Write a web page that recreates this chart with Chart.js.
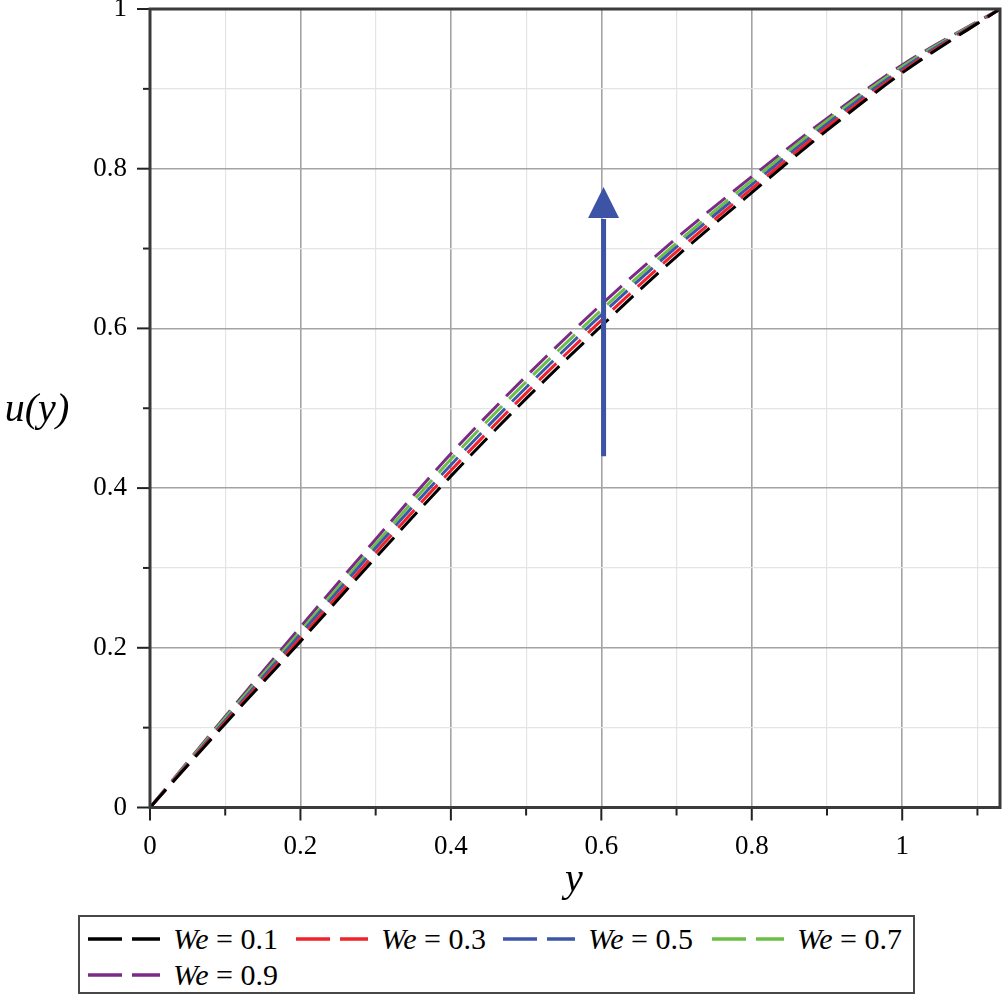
<!DOCTYPE html>
<html>
<head>
<meta charset="utf-8">
<script src="https://cdn.jsdelivr.net/npm/chart.js@4/dist/chart.umd.min.js"></script>
<style>
  html, body { margin: 0; padding: 0; background: #fff; }
  #wrap { position: relative; width: 1006px; height: 999px; overflow: hidden; }
  #plot { position: absolute; left: 0; top: 0; }
  #legend {
    position: absolute; left: 78px; top: 915px; width: 833px; height: 75px;
    border: 2px solid #474747; box-sizing: content-box;
    font-family: "Liberation Serif", "Times New Roman", Tinos, "DejaVu Serif", "Noto Serif", serif;
    font-size: 30px; color: #000;
  }
  .item { position: absolute; height: 32px; line-height: 32px; white-space: nowrap; }
  .item svg { position: absolute; left: 0; top: 13px; }
  .item span.t { position: absolute; top: 0; }
  .item i { font-style: italic; }
</style>
</head>
<body>
<div id="wrap">
  <canvas id="plot" width="1006" height="910"></canvas>
  <div id="legend"></div>
</div>
<script>
// --- данные ---
const yPos   = [0, 0.1, 0.2, 0.3, 0.4, 0.5, 0.6, 0.7, 0.8, 0.9, 1.0, 1.13];
const uWe01  = [0, 0.105, 0.208, 0.313, 0.415, 0.512, 0.603, 0.690, 0.770, 0.848, 0.920, 1.0];
const uWe03  = [0, 0.107, 0.212, 0.319, 0.422, 0.519, 0.610, 0.696, 0.775, 0.852, 0.922, 1.0];
const uWe05  = [0, 0.109, 0.217, 0.325, 0.429, 0.526, 0.617, 0.702, 0.780, 0.856, 0.925, 1.0];
const uWe07  = [0, 0.112, 0.221, 0.330, 0.436, 0.533, 0.623, 0.707, 0.785, 0.860, 0.928, 1.0];
const uWe09  = [0, 0.114, 0.226, 0.336, 0.443, 0.540, 0.630, 0.713, 0.790, 0.863, 0.930, 1.0];
const weLabels = ['0.1', '0.3', '0.5', '0.7', '0.9'];
const xTicks = [0, 0.2, 0.4, 0.6, 0.8, 1];
const yTicks = [0, 0.2, 0.4, 0.6, 0.8, 1];

// стрелка (направление роста We)
const arrowX = 0.603;
const arrowFrom = 0.44;
const arrowTo = 0.777;

const colors = ['#000000', '#f0222b', '#3d56a8', '#6cbf46', '#7b2b86'];
const seriesList = [uWe01, uWe03, uWe05, uWe07, uWe09];

const SERIF = '"Liberation Serif", "Times New Roman", Tinos, "DejaVu Serif", "Noto Serif", serif';
const isMajor = v => Math.abs(v * 5 - Math.round(v * 5)) < 1e-6;

const datasets = seriesList.map((vals, i) => ({
  label: 'We = ' + weLabels[i],
  data: vals.map((v, k) => ({ x: yPos[k], y: v })),
  borderColor: colors[i],
  borderWidth: 3,
  borderDash: [24, 10],
  pointRadius: 0,
  fill: false,
  cubicInterpolationMode: 'monotone'
}));

// рамка, засечки, подписи осей, стрелка
const decorPlugin = {
  id: 'decor',
  afterDatasetsDraw(chart) {
    const { ctx, chartArea: a, scales: { x, y } } = chart;
    ctx.save();

    // стрелка
    const px = x.getPixelForValue(arrowX);
    const pTip = y.getPixelForValue(arrowTo);
    const pBase = pTip + 31;
    ctx.strokeStyle = '#3d54a6';
    ctx.fillStyle = '#3d54a6';
    ctx.lineWidth = 5;
    ctx.beginPath();
    ctx.moveTo(px, y.getPixelForValue(arrowFrom));
    ctx.lineTo(px, pBase + 1);
    ctx.stroke();
    ctx.beginPath();
    ctx.moveTo(px, pTip);
    ctx.lineTo(px - 15.5, pBase);
    ctx.lineTo(px + 15.5, pBase);
    ctx.closePath();
    ctx.fill();

    // засечки
    ctx.strokeStyle = '#222';
    ctx.lineWidth = 2;
    for (let v = 0; v <= 1.1001; v += 0.1) {
      const p = x.getPixelForValue(v);
      const len = isMajor(v) ? 13 : 8;
      ctx.beginPath(); ctx.moveTo(p, a.bottom); ctx.lineTo(p, a.bottom + len); ctx.stroke();
    }
    for (let v = 0; v <= 1.0001; v += 0.1) {
      const p = y.getPixelForValue(v);
      const len = isMajor(v) ? 13 : 7;
      ctx.beginPath(); ctx.moveTo(a.left, p); ctx.lineTo(a.left - len, p); ctx.stroke();
    }

    // рамка
    ctx.strokeStyle = '#3a3a3a';
    ctx.lineWidth = 3;
    ctx.strokeRect(a.left, a.top, a.right - a.left, a.bottom - a.top);

    // подписи осей
    ctx.fillStyle = '#000';
    ctx.font = 'italic 40px ' + SERIF;
    ctx.textAlign = 'center';
    ctx.textBaseline = 'middle';
    ctx.fillText('u(y)', 37, 410);
    ctx.fillText('y', 574, 880);
    ctx.restore();
  }
};

new Chart(document.getElementById('plot'), {
  type: 'line',
  data: { datasets },
  options: {
    responsive: false,
    animation: false,
    layout: { padding: { top: 9, right: 6, left: 0, bottom: 0 } },
    plugins: { legend: { display: false }, tooltip: { enabled: false } },
    scales: {
      x: {
        type: 'linear', min: 0, max: 1.13,
        afterFit: s => { s.height = 910 - 807.5; s.paddingLeft = 0; s.paddingRight = 0; },
        border: { display: false },
        grid: {
          color: c => isMajor(c.tick.value) ? '#a3a3a3' : '#e4e4e4',
          lineWidth: c => isMajor(c.tick.value) ? 1.6 : 1.2,
          tickLength: 13, tickColor: 'rgba(0,0,0,0)'
        },
        ticks: {
          stepSize: 0.1, includeBounds: false, autoSkip: false, maxRotation: 0,
          padding: 10, color: '#000', font: { family: SERIF, size: 27 },
          callback: v => (xTicks.some(t => Math.abs(t - v) < 1e-6) ? String(Math.round(v * 10) / 10) : '')
        }
      },
      y: {
        type: 'linear', min: 0, max: 1,
        afterFit: s => { s.width = 150; s.paddingTop = 0; s.paddingBottom = 0; },
        border: { display: false },
        grid: {
          color: c => isMajor(c.tick.value) ? '#a3a3a3' : '#e4e4e4',
          lineWidth: c => isMajor(c.tick.value) ? 1.6 : 1.2,
          tickLength: 13, tickColor: 'rgba(0,0,0,0)'
        },
        ticks: {
          stepSize: 0.1, autoSkip: false, padding: 10, color: '#000',
          font: { family: SERIF, size: 27 },
          callback: v => (yTicks.some(t => Math.abs(t - v) < 1e-6) ? String(Math.round(v * 10) / 10) : '')
        }
      }
    }
  },
  plugins: [decorPlugin]
});

// --- легенда (HTML) ---
const legendPos = [
  { left: 8, top: 6 }, { left: 216, top: 6 }, { left: 423, top: 6 }, { left: 632, top: 6 },
  { left: 8, top: 42 }
];
const legend = document.getElementById('legend');
legend.innerHTML = weLabels.map((w, i) => `
  <div class="item" style="left:${legendPos[i].left}px;top:${legendPos[i].top}px;width:200px">
    <svg width="72" height="6"><line x1="0" y1="3" x2="72" y2="3" stroke="${colors[i]}" stroke-width="3.5" stroke-dasharray="34 10"/></svg>
    <span class="t" style="left:85px"><i>We</i> = ${w}</span>
  </div>`).join('');
</script>
</body>
</html>
